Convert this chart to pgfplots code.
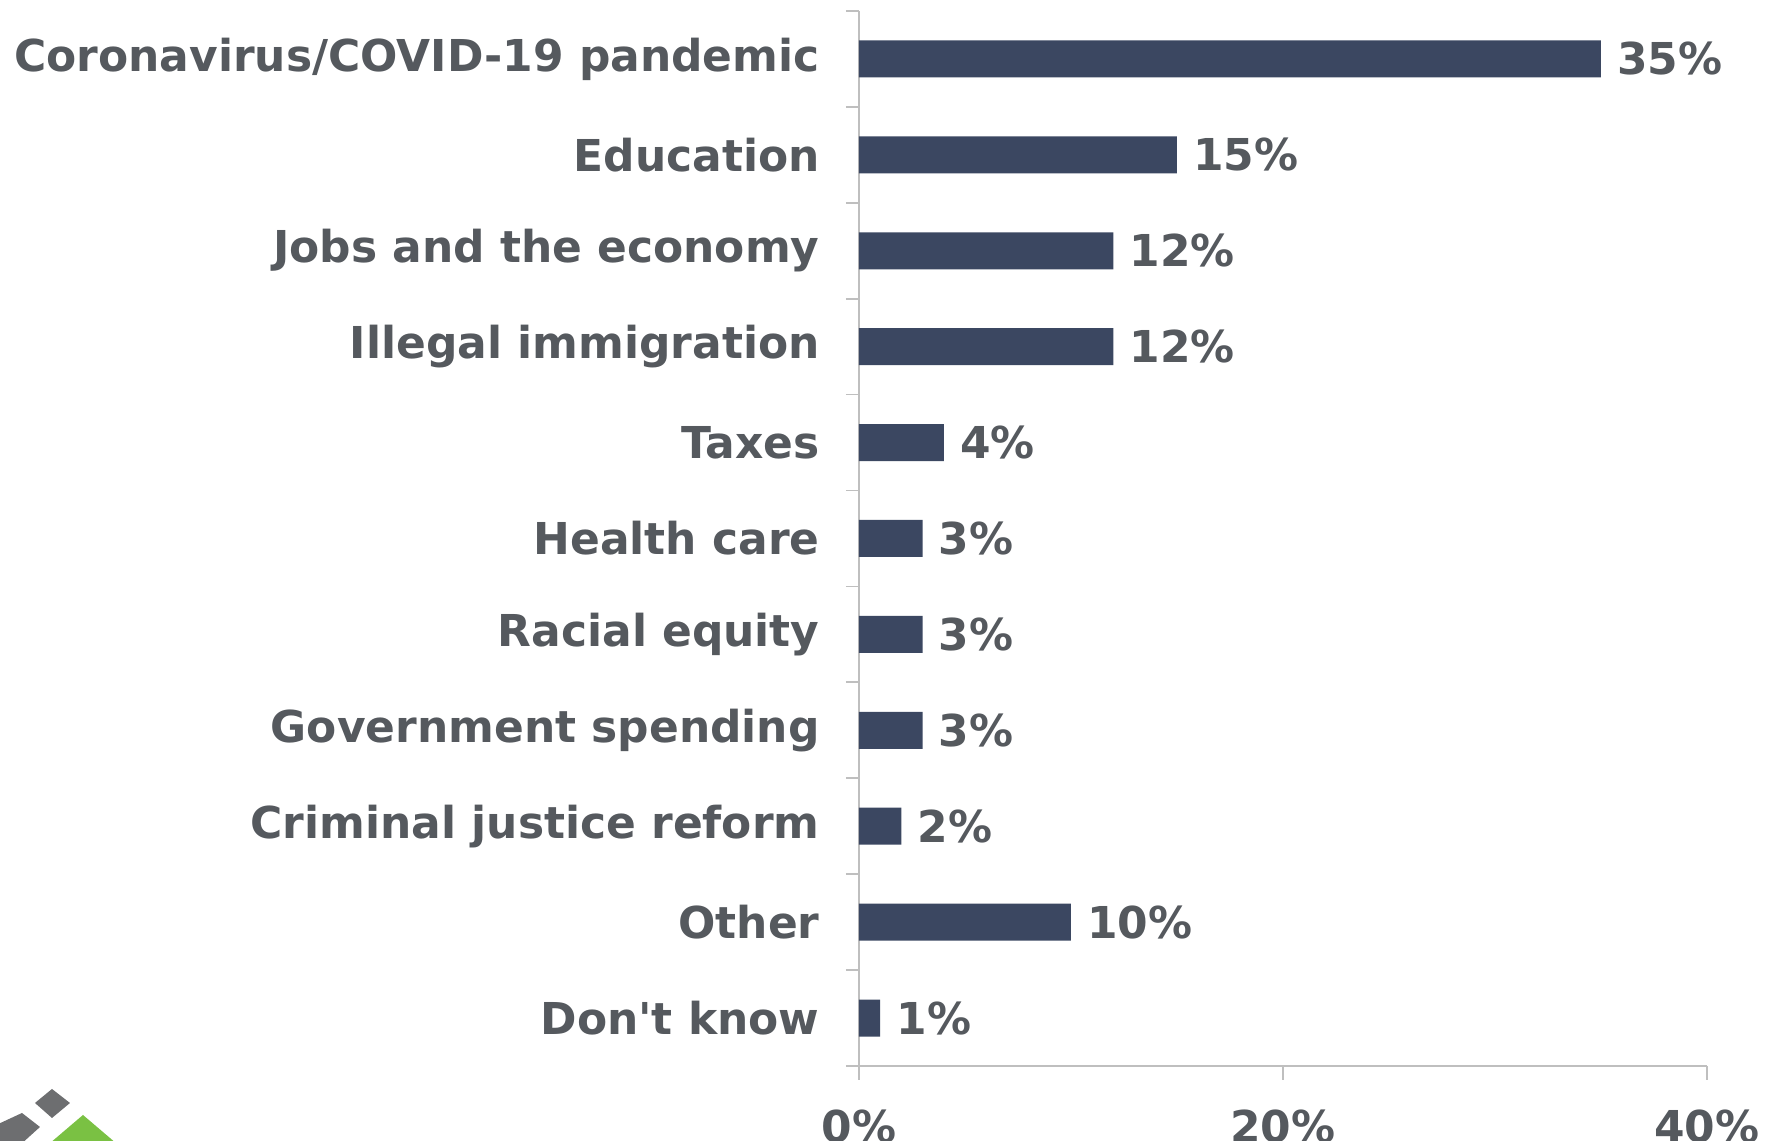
\documentclass[border=0pt]{standalone}
\usepackage{pgfplots}
\pgfplotsset{compat=1.18}
\usepackage{fontspec}
\setmainfont{DejaVu Sans}
\definecolor{barc}{HTML}{3B4761}
\definecolor{txt}{HTML}{55595E}
\definecolor{axc}{HTML}{BFBFBF}
\definecolor{logogray}{HTML}{6D6E70}
\definecolor{logogreen}{HTML}{7AC143}
\begin{document}
\begin{tikzpicture}
\begin{axis}[
  scale only axis,
  width=8.48cm, height=10.55cm,
  xbar, bar width=0.37cm,
  xmin=0, xmax=40,
  ymin=-0.5, ymax=10.5,
  axis lines*=left,
  axis line style={draw=axc, line width=0.5pt},
  xtick={0,20,40},
  xticklabels={0\%,20\%,40\%},
  ytick={0,...,10},
  yticklabels={Don\textquotesingle t know,Other,Criminal justice reform,Government spending,Racial equity,Health care,Taxes,Illegal immigration,Jobs and the economy,Education,Coronavirus/COVID-19 pandemic},
  minor ytick={-0.5,0.5,...,10.5},
  tick align=outside,
  major tick length=0.14cm,
  minor tick length=0.13cm,
  ytick style={draw=none},
  minor y tick style={draw=axc, line width=0.5pt},
  xtick style={draw=axc, line width=0.5pt},
  every tick label/.append style={font=\fontsize{12.5}{15}\selectfont\bfseries, text=txt},
  xticklabel style={yshift=-0.17cm},
  yticklabel style={xshift=-0.13cm},
  /pgf/number format/assume math mode=true,
  nodes near coords={\pgfmathprintnumber{\pgfplotspointmeta}\%},
  every node near coord/.append style={anchor=west, xshift=0.04cm, font=\fontsize{12.5}{15}\selectfont\bfseries, text=txt},
  clip=false,
]
\addplot[fill=barc, draw=none] coordinates {
(1,0) (10,1) (2,2) (3,3) (3,4) (3,5) (4,6) (12,7) (12,8) (15,9) (35,10)
};
\end{axis}
% logo (decorative)
\fill[logogray] (-8.24,-0.37) -- (-8.07,-0.23) -- (-7.89,-0.37) -- (-8.07,-0.52) -- cycle;
\fill[logogray] (-8.37,-0.47) -- (-8.19,-0.61) -- (-8.40,-0.80) -- (-8.65,-0.80) -- (-8.65,-0.60) -- cycle;
\fill[logogreen] (-7.76,-0.49) -- (-7.42,-0.78) -- (-8.10,-0.78) -- cycle;
\pgfresetboundingbox
\path[use as bounding box] ([xshift=-8.59cm,yshift=-0.75cm]current axis.south west) rectangle ([xshift=9.09cm,yshift=10.66cm]current axis.south west);
\end{tikzpicture}
\end{document}
